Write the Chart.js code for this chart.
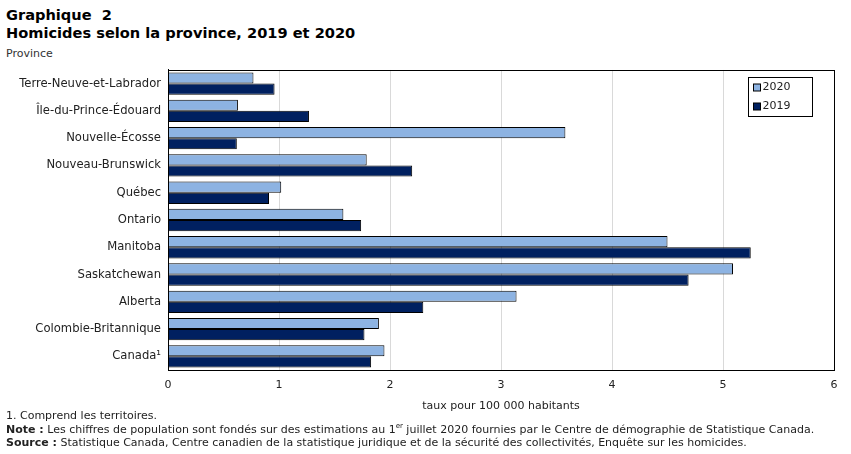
<!DOCTYPE html>
<html>
<head>
<meta charset="utf-8">
<script src="https://cdn.jsdelivr.net/npm/chart.js@4"></script>
<style>
  body { margin: 0; background: #fff; font-family: "DejaVu Sans", Verdana, sans-serif; color: #000; }
  #wrap { position: relative; width: 851px; height: 454px; overflow: hidden; }
  #title { position: absolute; left: 6px; top: 6px; font-size: 14.6px; font-weight: bold; line-height: 18px; }
  #unit { position: absolute; left: 6px; top: 47px; font-size: 11px; color: #333; }
  #chartBox { position: absolute; left: 0; top: 56px; width: 851px; height: 359px; }
  #notes { position: absolute; left: 6px; top: 409px; font-size: 11px; line-height: 13.5px; color: #222; }
  sup { font-size: 7px; line-height: 0; }
</style>
</head>
<body>
<div id="wrap">
  <div id="title">Graphique&nbsp; 2<br>Homicides selon la province, 2019 et 2020</div>
  <div id="unit">Province</div>
  <div id="chartBox"><canvas id="homChart"></canvas></div>
  <div id="notes">
    1. Comprend les territoires.<br>
    <b>Note :</b> Les chiffres de population sont fondés sur des estimations au 1<sup>er</sup> juillet 2020 fournies par le Centre de démographie de Statistique Canada.<br>
    <b>Source :</b> Statistique Canada, Centre canadien de la statistique juridique et de la sécurité des collectivités, Enquête sur les homicides.
  </div>
</div>
<script>
// categories and values (taux pour 100 000 habitants)
const provinces = [
  "Terre-Neuve-et-Labrador", "Île-du-Prince-Édouard", "Nouvelle-Écosse",
  "Nouveau-Brunswick", "Québec", "Ontario", "Manitoba", "Saskatchewan",
  "Alberta", "Colombie-Britannique", "Canada¹"
];
const rates2020 = [0.77, 0.63, 3.58, 1.79, 1.02, 1.58, 4.50, 5.09, 3.14, 1.90, 1.95];
const rates2019 = [0.96, 1.27, 0.62, 2.20, 0.91, 1.74, 5.25, 4.69, 2.30, 1.77, 1.83];
const xTicks = [0, 1, 2, 3, 4, 5, 6];

const font = "'DejaVu Sans', Verdana, sans-serif";

// border round the plot area + legend box inside it
const framePlugin = {
  id: "frame",
  afterDraw(chart) {
    const { ctx, chartArea: a } = chart;
    ctx.save();
    ctx.strokeStyle = "#000";
    ctx.lineWidth = 1;
    ctx.strokeRect(Math.round(a.left) + 0.5, Math.round(a.top) + 0.5,
      Math.round(a.right - a.left), Math.round(a.bottom - a.top));

    // legend
    const bx = Math.round(a.right) - 85.5, by = Math.round(a.top) + 7.5;
    const bw = 64, bh = 39;
    ctx.fillStyle = "#fff";
    ctx.fillRect(bx, by, bw, bh);
    ctx.strokeRect(bx, by, bw, bh);
    ctx.font = "11px " + font;
    ctx.textBaseline = "middle";
    chart.data.datasets.forEach((ds, i) => {
      const y = by + 10 + i * 19;
      ctx.fillStyle = ds.backgroundColor;
      ctx.fillRect(bx + 5, y - 3.5, 7, 7);
      ctx.strokeRect(bx + 5, y - 3.5, 7, 7);
      ctx.fillStyle = "#222";
      ctx.fillText(ds.label, bx + 14, y);
    });
    ctx.restore();
  }
};

document.addEventListener("DOMContentLoaded", function () {
  const ctx = document.getElementById("homChart").getContext("2d");
  new Chart(ctx, {
    type: "bar",
    data: {
      labels: provinces,
      datasets: [
        {
          label: "2020",
          data: rates2020,
          backgroundColor: "#8db3e2",
          borderColor: "#000",
          borderWidth: 1,
        },
        {
          label: "2019",
          data: rates2019,
          backgroundColor: "#002060",
          borderColor: "#000",
          borderWidth: 1,
        },
      ],
    },
    options: {
      indexAxis: "y",
      responsive: true,
      maintainAspectRatio: false,
      animation: false,
      layout: { padding: { top: 6, right: 17, bottom: 0, left: 0 } },
      datasets: { bar: { categoryPercentage: 0.82, barPercentage: 1.0 } },
      plugins: {
        legend: { display: false },
        tooltip: { enabled: false },
      },
      scales: {
        x: {
          min: 0,
          max: 6,
          afterBuildTicks: (scale) => { scale.ticks = xTicks.map((v) => ({ value: v })); },
          afterFit: (scale) => { scale.height = 45; },
          grid: { color: "#d9d9d9", drawTicks: false },
          border: { display: true, color: "#000" },
          ticks: { padding: 9, color: "#222", font: { family: font, size: 11 } },
          title: {
            display: true,
            text: "taux pour 100 000 habitants",
            color: "#222",
            font: { family: font, size: 11 },
            padding: { top: 4, bottom: 2 },
          },
        },
        y: {
          afterFit: (scale) => { scale.width = 168; },
          grid: { display: false, drawTicks: false },
          border: { display: true, color: "#000" },
          ticks: { padding: 7, color: "#222", font: { family: font, size: 11.6 } },
        },
      },
    },
    plugins: [framePlugin],
  });
});
</script>
</body>
</html>
